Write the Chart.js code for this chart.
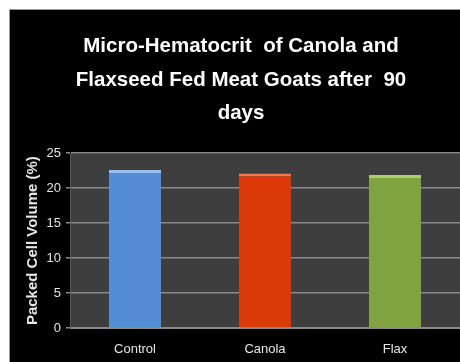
<!DOCTYPE html>
<html>
<head>
<meta charset="utf-8">
<script src="https://cdn.jsdelivr.net/npm/chart.js@4/dist/chart.umd.min.js"></script>
<style>
  html, body { margin: 0; padding: 0; background: #fff; overflow: hidden; }
  #frame {
    position: absolute; left: 9px; top: 9px; width: 451px; height: 353px;
    background: #000; border-left: 1px solid #999; border-top: 1px solid #999;
  }
  #chart { display: block; }
</style>
</head>
<body>
<div id="frame"><canvas id="chart" width="450" height="352"></canvas></div>
<script>
var groups = ['Control', 'Canola', 'Flax'];
var pcv = [22.6, 22.1, 21.9];
var barColors = ['rgb(84,141,212)', 'rgb(218,58,8)', 'rgb(128,162,64)'];
var barTops = ['rgb(150,190,240)', 'rgb(245,120,80)', 'rgb(175,205,110)'];
var yTicks = [0, 5, 10, 15, 20, 25];

var font = "'Liberation Sans Narrow', 'Arial Narrow', 'Liberation Sans', sans-serif";

// dark grey plot area behind the bars
var plotBg = {
  id: 'plotBg',
  beforeDraw: function(chart) {
    var a = chart.chartArea, ctx = chart.ctx;
    ctx.save();
    ctx.fillStyle = '#3e3e3e';
    ctx.fillRect(a.left, a.top, a.right - a.left, a.bottom - a.top);
    ctx.restore();
  }
};

var ctx = document.getElementById('chart');
var chart = new Chart(ctx, {
  type: 'bar',
  data: {
    labels: groups,
    datasets: [{
      data: pcv,
      backgroundColor: barColors,
      borderColor: barTops,
      borderWidth: { top: 3, left: 0, right: 0, bottom: 0 },
      borderSkipped: false,
      categoryPercentage: 1,
      barPercentage: 0.4
    }]
  },
  options: {
    responsive: false,
    animation: false,
    layout: { padding: { left: 12, right: 0, top: 0, bottom: 0 } },
    plugins: {
      legend: { display: false },
      tooltip: { enabled: false },
      title: {
        display: true,
        text: ['Micro-Hematocrit  of Canola and', 'Flaxseed Fed Meat Goats after  90', 'days'],
        color: '#fff',
        font: { family: font, size: 20.5, weight: 'bold', lineHeight: 1.63 },
        padding: { top: 20, bottom: 23 }
      }
    },
    scales: {
      x: {
        grid: { display: false, drawTicks: false },
        border: { color: '#8a8a8a', width: 1 },
        ticks: { color: '#e6e6e6', padding: 14, font: { family: font, size: 13 } },
        afterFit: function(s) { s.height = 34; }
      },
      y: {
        min: 0,
        max: 25,
        afterBuildTicks: function(s) { s.ticks = yTicks.map(function(v) { return { value: v }; }); },
        grid: { color: '#8a8a8a', lineWidth: 1.5, tickLength: 4 },
        border: { color: '#555', width: 1 },
        ticks: { color: '#e6e6e6', padding: 5, font: { family: font, size: 13 } },
        title: {
          display: true,
          text: 'Packed Cell Volume (%)',
          color: '#e6e6e6',
          font: { family: font, size: 15, weight: 'bold' },
          padding: 2
        },
        afterFit: function(s) { s.width = 48; }
      }
    }
  },
  plugins: [plotBg]
});
</script>
</body>
</html>
